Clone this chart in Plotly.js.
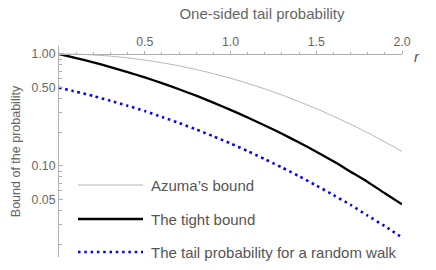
<!DOCTYPE html>
<html>
<head>
<meta charset="utf-8">
<script src="https://cdn.plot.ly/plotly-3.0.1.min.js"></script>
<style>html,body{margin:0;padding:0;background:#fff;}#chart{width:436px;height:270px;}</style>
</head>
<body>
<div id="chart"></div>
<script>
// r values (x) and the three curves
var r = [0, 0.1, 0.2, 0.3, 0.4, 0.5, 0.6, 0.7, 0.8, 0.9, 1.0, 1.1, 1.2, 1.3, 1.4, 1.5, 1.6, 1.7, 1.8, 1.9, 2.0];
var azuma = [1.0, 0.995, 0.980, 0.956, 0.923, 0.882, 0.835, 0.783, 0.726, 0.667, 0.607, 0.546, 0.487, 0.430, 0.375, 0.325, 0.278, 0.236, 0.198, 0.164, 0.135];
var tight = [1.0, 0.920, 0.841, 0.764, 0.689, 0.617, 0.549, 0.484, 0.424, 0.368, 0.317, 0.271, 0.230, 0.194, 0.162, 0.134, 0.110, 0.089, 0.072, 0.057, 0.0455];
var walk = [0.5, 0.460, 0.421, 0.382, 0.345, 0.309, 0.274, 0.242, 0.212, 0.184, 0.159, 0.136, 0.115, 0.097, 0.081, 0.067, 0.055, 0.045, 0.036, 0.029, 0.023];

var seriesNames = ["Azuma\u2019s bound", "The tight bound", "The tail probability for a random walk"];
var xTickVals = [0.5, 1.0, 1.5, 2.0];
var xTickText = ["0.5", "1.0", "1.5", "2.0"];
var xMinor = [0.1, 0.2, 0.3, 0.4, 0.6, 0.7, 0.8, 0.9, 1.1, 1.2, 1.3, 1.4, 1.6, 1.7, 1.8, 1.9];
var yTickVals = [0.05, 0.1, 0.5, 1.0];
var yTickText = ["0.05", "0.10", "0.50", "1.00"];
var yMinor = [0.02, 0.03, 0.04, 0.06, 0.07, 0.08, 0.09, 0.2, 0.3, 0.4, 0.6, 0.7, 0.8, 0.9];

var FONT = "Liberation Sans, Arial, Helvetica, sans-serif";
var styles = [
  {color: "#b4b4b4", width: 1, dash: "solid"},
  {color: "#000000", width: 2.3, dash: "solid"},
  {color: "#0000ff", width: 2.6, dash: "2.5px,3.8px"}
];
var ys = [azuma, tight, walk];

var traces = ys.map(function (y, i) {
  return {
    x: r, y: y, type: "scatter", mode: "lines", name: seriesNames[i],
    line: {color: styles[i].color, width: styles[i].width, dash: styles[i].dash, shape: "spline", smoothing: 0.6},
    hoverinfo: "skip", showlegend: false, cliponaxis: false
  };
});

// custom legend (long line samples like the original)
var legY = [185, 219, 252];
var L = 59, R = 402, T = 46, B = 257;
function px2x(p) { return (p - L) / (R - L); }
function py2y(p) { return (B - p) / (B - T); }
var shapes = [], annotations = [];
seriesNames.forEach(function (nm, i) {
  shapes.push({type: "line", xref: "paper", yref: "paper",
    x0: px2x(78), x1: px2x(143), y0: py2y(legY[i]), y1: py2y(legY[i]),
    line: {color: styles[i].color, width: styles[i].width, dash: styles[i].dash}});
  annotations.push({xref: "paper", yref: "paper", x: px2x(149), y: py2y(legY[i]),
    xanchor: "left", yanchor: "middle", text: nm, showarrow: false,
    font: {family: FONT, size: 15, color: "#555555"}});
});
annotations.push({xref: "paper", yref: "paper", x: px2x(417), y: py2y(56), xanchor: "center", yanchor: "middle",
  text: "<i>r</i>", showarrow: false, font: {family: FONT, size: 15, color: "#555555"}});

var layout = {
  width: 436, height: 270,
  margin: {l: L, r: 436 - R, t: T, b: 270 - B, pad: 0},
  paper_bgcolor: "#ffffff", plot_bgcolor: "#ffffff",
  showlegend: false,
  font: {family: FONT, color: "#666666", size: 12},
  title: {text: "One-sided tail probability", font: {family: FONT, size: 15, color: "#666666"},
    xref: "container", yref: "container", x: 262 / 436, y: 1 - 14 / 270, xanchor: "center", yanchor: "middle"},
  xaxis: {
    range: [0, 2], side: "top", anchor: "free", position: py2y(54),
    showgrid: false, zeroline: false, showline: true, linecolor: "#b0b0b0", linewidth: 1,
    tickmode: "array", tickvals: xTickVals, ticktext: xTickText,
    ticks: "outside", ticklen: 3.5, tickcolor: "#b0b0b0", tickwidth: 1,
    tickfont: {family: FONT, size: 12.3, color: "#666666"},
    minor: {tickmode: "array", tickvals: xMinor, ticks: "outside", ticklen: 2, tickcolor: "#b0b0b0", showgrid: false},
    fixedrange: true
  },
  yaxis: {
    type: "log", range: [-1.8125, 0.071],
    showgrid: false, zeroline: false, showline: true, linecolor: "#b0b0b0", linewidth: 1,
    tickmode: "array", tickvals: yTickVals, ticktext: yTickText,
    ticks: "inside", ticklen: 4, tickcolor: "#b0b0b0", tickwidth: 1,
    tickfont: {family: FONT, size: 12.3, color: "#666666"},
    minor: {tickmode: "array", tickvals: yMinor, ticks: "inside", ticklen: 2.5, tickcolor: "#b0b0b0", showgrid: false},
    title: {text: "Bound of the probability", font: {family: FONT, size: 12.5, color: "#666666"}, standoff: 8},
    automargin: false, fixedrange: true
  },
  shapes: shapes,
  annotations: annotations
};

Plotly.newPlot("chart", traces, layout, {displayModeBar: false, staticPlot: true});
</script>
</body>
</html>
